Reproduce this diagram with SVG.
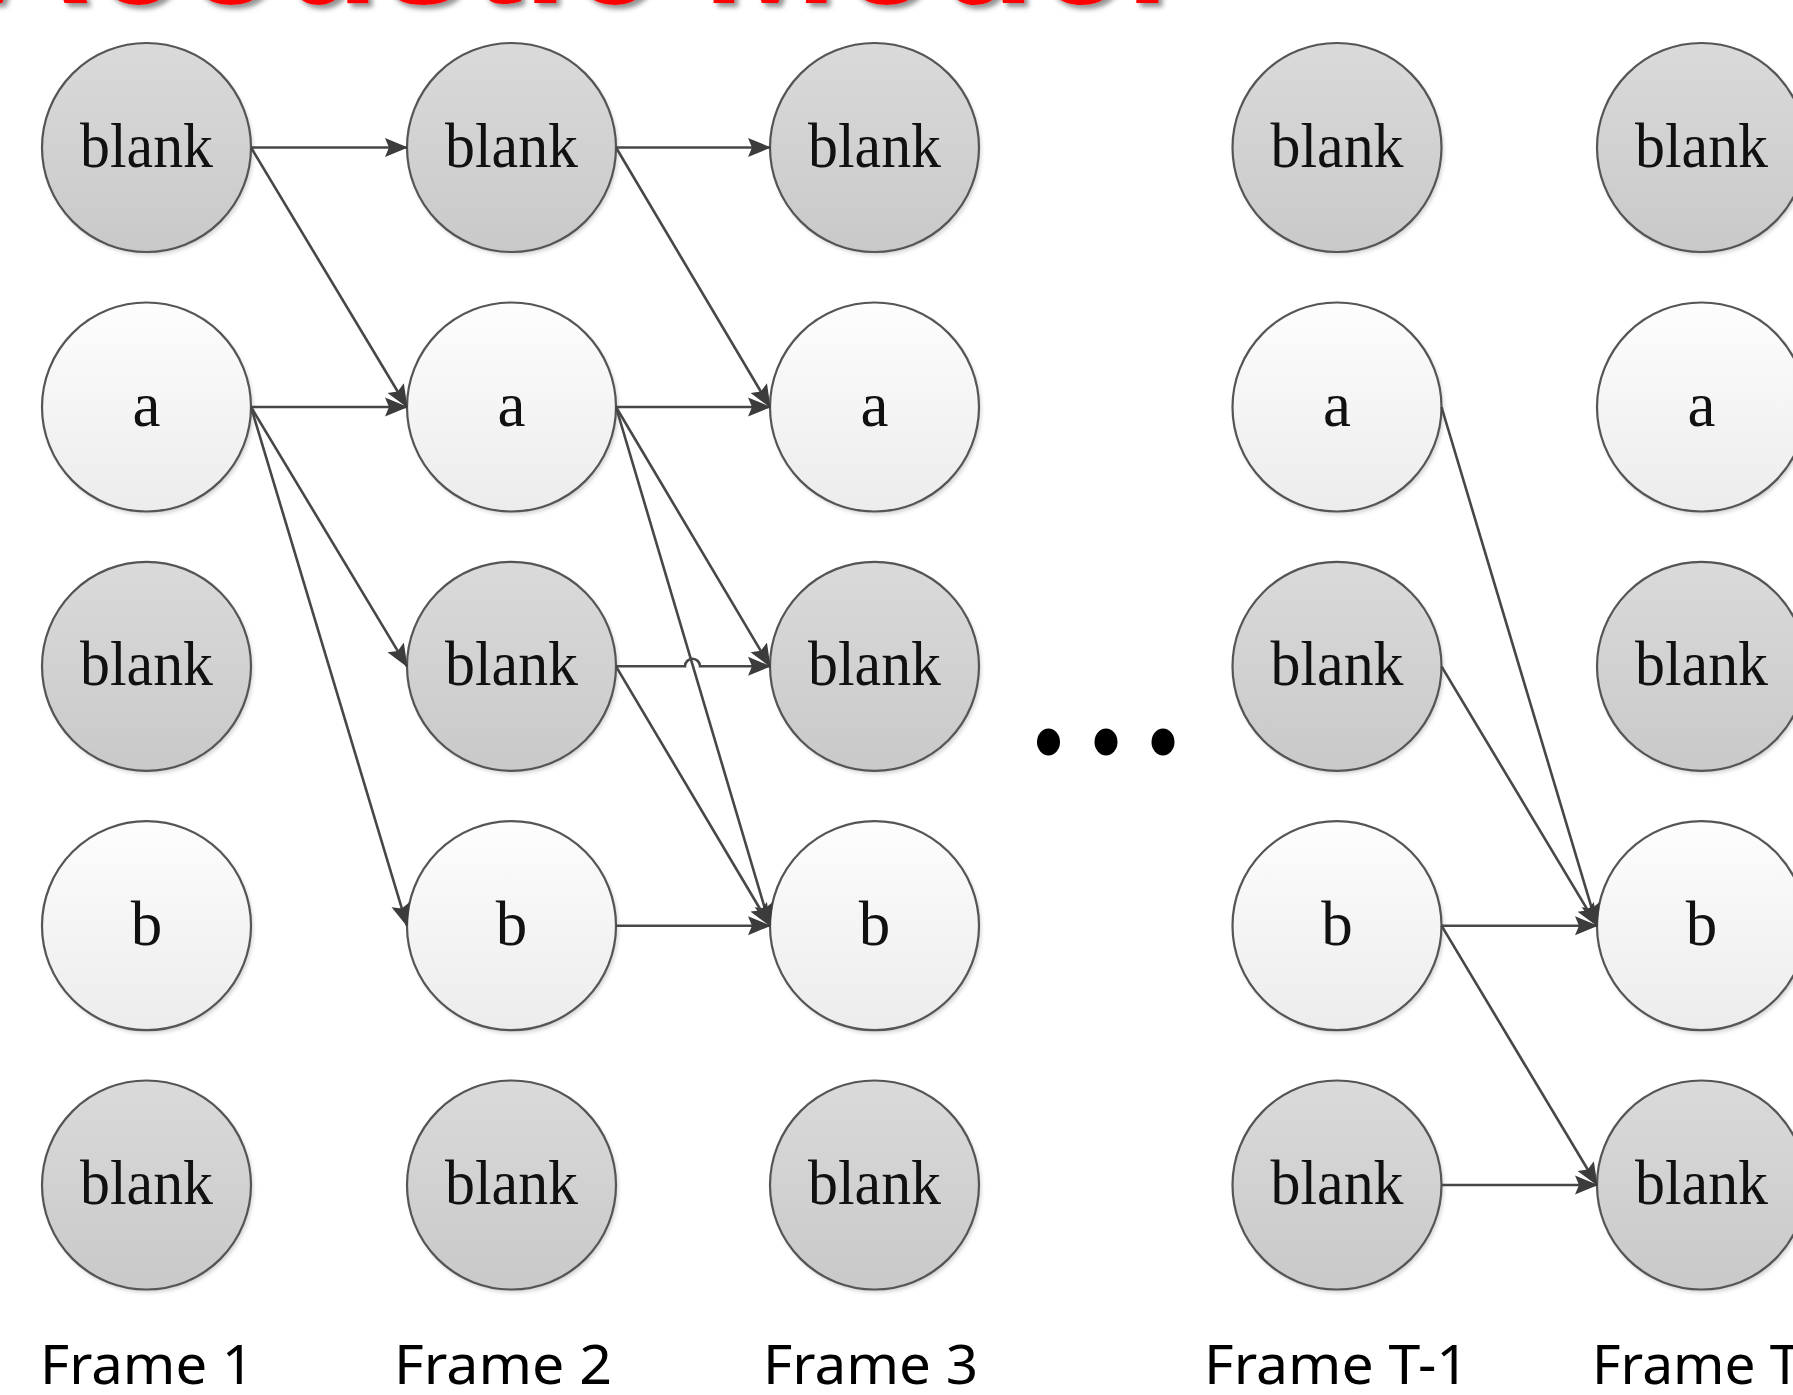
<svg xmlns="http://www.w3.org/2000/svg" width="1793" height="1395" viewBox="0 0 1793 1395">
<style>
.t{font-family:"Liberation Serif","Times New Roman",serif;font-size:63px;fill:#111;text-anchor:middle}
.blank{fill:url(#gBlank);stroke:#555;stroke-width:2.2}
.sym{fill:url(#gSym);stroke:#555;stroke-width:2.2}
.sh{fill:#000;opacity:0.18;filter:url(#blur2)}
.e{fill:none;stroke:#474747;stroke-width:2.6;marker-end:url(#ah)}
.lbl{font-family:"Noto Sans","Open Sans","Liberation Sans",sans-serif;font-size:55px;fill:#000}
.dot{fill:#000}
</style>
<defs>
<linearGradient id="gBlank" x1="0" y1="0" x2="0" y2="1">
<stop offset="0" stop-color="#dadada"/><stop offset="1" stop-color="#c9c9c9"/>
</linearGradient>
<linearGradient id="gSym" x1="0" y1="0" x2="0" y2="1">
<stop offset="0" stop-color="#fdfdfd"/><stop offset="1" stop-color="#ececec"/>
</linearGradient>
<filter id="blur2" x="-20%" y="-20%" width="140%" height="140%"><feGaussianBlur stdDeviation="2"/></filter>
<filter id="tshadow" x="-5%" y="-50%" width="110%" height="200%"><feDropShadow dx="4" dy="4" stdDeviation="2.5" flood-color="#777" flood-opacity="0.8"/></filter>
<marker id="ah" markerUnits="userSpaceOnUse" markerWidth="24" markerHeight="20" refX="22" refY="10" orient="auto">
<path d="M0,0.5 L23,10 L0,19.5 L4,10 z" fill="#3c3c3c"/>
</marker>
</defs>
<rect width="1793" height="1395" fill="#fff"/>

<g id="title">
<text x="-25" y="3" font-family="Liberation Sans, Arial, sans-serif" font-weight="bold" font-size="170" fill="#ff0000" textLength="1195" lengthAdjust="spacingAndGlyphs" filter="url(#tshadow)">Acoustic Model</text>
</g>

<g id="nodes">
<g id="f1-blank0"><circle class="sh" cx="148.5" cy="150.5" r="104.5"/><circle class="blank" cx="146.5" cy="147.5" r="104.5"/><text class="t" x="146.5" y="166.5" textLength="133" lengthAdjust="spacingAndGlyphs">blank</text></g>
<g id="f1-a"><circle class="sh" cx="148.5" cy="410" r="104.5"/><circle class="sym" cx="146.5" cy="407" r="104.5"/><text class="t" x="146.5" y="426">a</text></g>
<g id="f1-blank2"><circle class="sh" cx="148.5" cy="669.3" r="104.5"/><circle class="blank" cx="146.5" cy="666.3" r="104.5"/><text class="t" x="146.5" y="685.3" textLength="133" lengthAdjust="spacingAndGlyphs">blank</text></g>
<g id="f1-b"><circle class="sh" cx="148.5" cy="928.7" r="104.5"/><circle class="sym" cx="146.5" cy="925.7" r="104.5"/><text class="t" x="146.5" y="944.7">b</text></g>
<g id="f1-blank4"><circle class="sh" cx="148.5" cy="1188" r="104.5"/><circle class="blank" cx="146.5" cy="1185" r="104.5"/><text class="t" x="146.5" y="1204" textLength="133" lengthAdjust="spacingAndGlyphs">blank</text></g>

<g id="f2-blank0"><circle class="sh" cx="513.5" cy="150.5" r="104.5"/><circle class="blank" cx="511.5" cy="147.5" r="104.5"/><text class="t" x="511.5" y="166.5" textLength="133" lengthAdjust="spacingAndGlyphs">blank</text></g>
<g id="f2-a"><circle class="sh" cx="513.5" cy="410" r="104.5"/><circle class="sym" cx="511.5" cy="407" r="104.5"/><text class="t" x="511.5" y="426">a</text></g>
<g id="f2-blank2"><circle class="sh" cx="513.5" cy="669.3" r="104.5"/><circle class="blank" cx="511.5" cy="666.3" r="104.5"/><text class="t" x="511.5" y="685.3" textLength="133" lengthAdjust="spacingAndGlyphs">blank</text></g>
<g id="f2-b"><circle class="sh" cx="513.5" cy="928.7" r="104.5"/><circle class="sym" cx="511.5" cy="925.7" r="104.5"/><text class="t" x="511.5" y="944.7">b</text></g>
<g id="f2-blank4"><circle class="sh" cx="513.5" cy="1188" r="104.5"/><circle class="blank" cx="511.5" cy="1185" r="104.5"/><text class="t" x="511.5" y="1204" textLength="133" lengthAdjust="spacingAndGlyphs">blank</text></g>

<g id="f3-blank0"><circle class="sh" cx="876.5" cy="150.5" r="104.5"/><circle class="blank" cx="874.5" cy="147.5" r="104.5"/><text class="t" x="874.5" y="166.5" textLength="133" lengthAdjust="spacingAndGlyphs">blank</text></g>
<g id="f3-a"><circle class="sh" cx="876.5" cy="410" r="104.5"/><circle class="sym" cx="874.5" cy="407" r="104.5"/><text class="t" x="874.5" y="426">a</text></g>
<g id="f3-blank2"><circle class="sh" cx="876.5" cy="669.3" r="104.5"/><circle class="blank" cx="874.5" cy="666.3" r="104.5"/><text class="t" x="874.5" y="685.3" textLength="133" lengthAdjust="spacingAndGlyphs">blank</text></g>
<g id="f3-b"><circle class="sh" cx="876.5" cy="928.7" r="104.5"/><circle class="sym" cx="874.5" cy="925.7" r="104.5"/><text class="t" x="874.5" y="944.7">b</text></g>
<g id="f3-blank4"><circle class="sh" cx="876.5" cy="1188" r="104.5"/><circle class="blank" cx="874.5" cy="1185" r="104.5"/><text class="t" x="874.5" y="1204" textLength="133" lengthAdjust="spacingAndGlyphs">blank</text></g>

<g id="fT1-blank0"><circle class="sh" cx="1339" cy="150.5" r="104.5"/><circle class="blank" cx="1337" cy="147.5" r="104.5"/><text class="t" x="1337" y="166.5" textLength="133" lengthAdjust="spacingAndGlyphs">blank</text></g>
<g id="fT1-a"><circle class="sh" cx="1339" cy="410" r="104.5"/><circle class="sym" cx="1337" cy="407" r="104.5"/><text class="t" x="1337" y="426">a</text></g>
<g id="fT1-blank2"><circle class="sh" cx="1339" cy="669.3" r="104.5"/><circle class="blank" cx="1337" cy="666.3" r="104.5"/><text class="t" x="1337" y="685.3" textLength="133" lengthAdjust="spacingAndGlyphs">blank</text></g>
<g id="fT1-b"><circle class="sh" cx="1339" cy="928.7" r="104.5"/><circle class="sym" cx="1337" cy="925.7" r="104.5"/><text class="t" x="1337" y="944.7">b</text></g>
<g id="fT1-blank4"><circle class="sh" cx="1339" cy="1188" r="104.5"/><circle class="blank" cx="1337" cy="1185" r="104.5"/><text class="t" x="1337" y="1204" textLength="133" lengthAdjust="spacingAndGlyphs">blank</text></g>

<g id="fT-blank0"><circle class="sh" cx="1703.5" cy="150.5" r="104.5"/><circle class="blank" cx="1701.5" cy="147.5" r="104.5"/><text class="t" x="1701.5" y="166.5" textLength="133" lengthAdjust="spacingAndGlyphs">blank</text></g>
<g id="fT-a"><circle class="sh" cx="1703.5" cy="410" r="104.5"/><circle class="sym" cx="1701.5" cy="407" r="104.5"/><text class="t" x="1701.5" y="426">a</text></g>
<g id="fT-blank2"><circle class="sh" cx="1703.5" cy="669.3" r="104.5"/><circle class="blank" cx="1701.5" cy="666.3" r="104.5"/><text class="t" x="1701.5" y="685.3" textLength="133" lengthAdjust="spacingAndGlyphs">blank</text></g>
<g id="fT-b"><circle class="sh" cx="1703.5" cy="928.7" r="104.5"/><circle class="sym" cx="1701.5" cy="925.7" r="104.5"/><text class="t" x="1701.5" y="944.7">b</text></g>
<g id="fT-blank4"><circle class="sh" cx="1703.5" cy="1188" r="104.5"/><circle class="blank" cx="1701.5" cy="1185" r="104.5"/><text class="t" x="1701.5" y="1204" textLength="133" lengthAdjust="spacingAndGlyphs">blank</text></g>
</g>

<g id="connectors">
<path class="e" d="M251,147.5 L407,147.5"/>
<path class="e" d="M251,147.5 L407,407"/>
<path class="e" d="M251,407 L407,407"/>
<path class="e" d="M251,407 L407,666.3"/>
<path class="e" d="M251,407 L407,925.7"/>
<path class="e" d="M616,147.5 L770,147.5"/>
<path class="e" d="M616,147.5 L770,407"/>
<path class="e" d="M616,407 L770,407"/>
<path class="e" d="M616,407 L770,666.3"/>
<path class="e" d="M616,407 L770,925.7"/>
<path class="e" d="M616,666.3 L685,666.3 A7.5,7.5 0 0 1 700,666.3 L770,666.3"/>
<path class="e" d="M616,666.3 L770,925.7"/>
<path class="e" d="M616,925.7 L770,925.7"/>
<path class="e" d="M1441.5,407 L1597,925.7"/>
<path class="e" d="M1441.5,666.3 L1597,925.7"/>
<path class="e" d="M1441.5,925.7 L1597,925.7"/>
<path class="e" d="M1441.5,925.7 L1597,1185"/>
<path class="e" d="M1441.5,1185 L1597,1185"/>
</g>

<g id="ellipsis">
<ellipse class="dot" cx="1048.5" cy="742" rx="11.5" ry="13.5"/>
<ellipse class="dot" cx="1106" cy="742" rx="11.5" ry="13.5"/>
<ellipse class="dot" cx="1163" cy="742" rx="11.5" ry="13.5"/>
</g>

<g id="labels">
<text class="lbl" x="40" y="1384" textLength="214" lengthAdjust="spacingAndGlyphs">Frame 1</text>
<text class="lbl" x="394" y="1384" textLength="218" lengthAdjust="spacingAndGlyphs">Frame 2</text>
<text class="lbl" x="763" y="1384" textLength="215" lengthAdjust="spacingAndGlyphs">Frame 3</text>
<text class="lbl" x="1204" y="1384" textLength="265" lengthAdjust="spacingAndGlyphs">Frame T-1</text>
<text class="lbl" x="1592" y="1384">Frame T</text>
</g>
</svg>
